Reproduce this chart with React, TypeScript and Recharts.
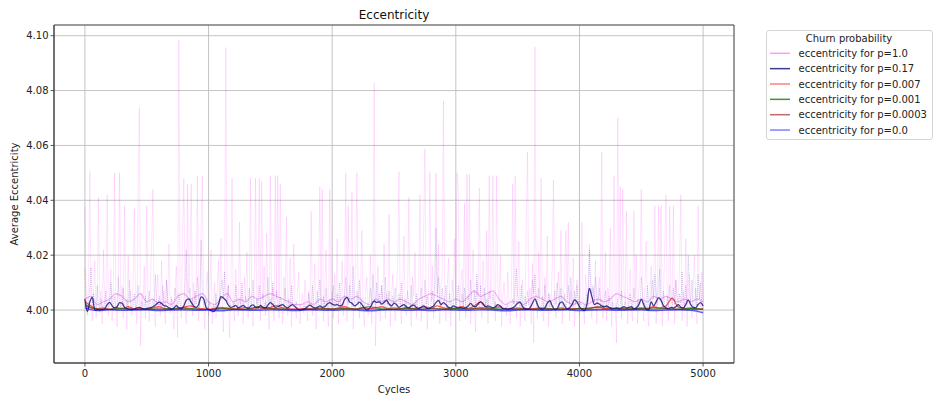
import React from 'react';
import { LineChart, Line, XAxis, YAxis, CartesianGrid, Legend, ReferenceArea } from 'recharts';

// ---- axes / ticks ----
const X_TICKS = [0, 1000, 2000, 3000, 4000, 5000];
const Y_TICKS = [4.0, 4.02, 4.04, 4.06, 4.08, 4.1];
const X_DOMAIN = [-250, 5250];
const Y_DOMAIN = [3.9807, 4.1039];

const TITLE = 'Eccentricity';
const X_LABEL = 'Cycles';
const Y_LABEL = 'Average Eccentricity';
const LEGEND_TITLE = 'Churn probability';
const SERIES_LABELS = [
  'eccentricity for p=1.0',
  'eccentricity for p=0.17',
  'eccentricity for p=0.007',
  'eccentricity for p=0.001',
  'eccentricity for p=0.0003',
  'eccentricity for p=0.0',
];

// ---- series values ----
// p=1.0 raw, one value every 10 cycles
const RAW_STEP = 10;
const P100_RAW = [
  4.038, 4.004, 3.998, 4.012, 4.0505, 4.001, 3.996, 4.006, 4.018, 3.997,
  4.003, 4.041, 3.999, 4.007, 3.995, 4.022, 4.002, 4.005, 4.042, 3.998,
  4.004, 4.015, 3.996, 4.008, 4.050, 4.002, 3.994, 4.006, 4.050, 4.001,
  4.009, 3.997, 4.038, 4.004, 3.993, 4.020, 4.003, 4.007, 3.998, 4.012,
  4.037, 4.002, 3.995, 4.043, 4.0738, 3.987, 4.006, 4.001, 4.016, 3.997,
  4.038, 4.003, 3.996, 4.008, 4.025, 4.044, 4.001, 3.994, 4.006, 4.013,
  4.004, 3.998, 4.018, 4.002, 4.007, 3.995, 4.011, 4.003, 4.024, 3.999,
  4.005, 4.002, 3.993, 4.009, 4.016, 3.990, 4.0985, 4.004, 3.997, 4.028,
  4.048, 4.003, 3.995, 4.046, 4.006, 4.020, 4.046, 3.998, 4.010, 4.002,
  4.007, 4.049, 3.996, 4.004, 4.030, 4.049, 4.001, 3.993, 4.008, 4.014,
  3.998, 4.005, 4.022, 3.995, 4.003, 4.010, 3.997, 4.006, 4.018, 4.002,
  4.026, 4.004, 3.992, 4.012, 4.0957, 4.003, 4.009, 3.990, 4.006, 4.048,
  4.001, 3.996, 4.015, 4.004, 3.998, 4.032, 4.002, 4.007, 3.995, 4.012,
  4.003, 4.021, 3.997, 4.006, 4.048, 4.001, 3.994, 4.009, 4.048, 4.002,
  4.005, 4.048, 3.996, 4.047, 4.004, 4.016, 3.998, 4.028, 4.003, 3.993,
  4.049, 4.002, 4.008, 3.996, 4.049, 4.004, 4.049, 3.997, 4.046, 4.003,
  3.995, 4.012, 4.002, 4.034, 3.998, 4.006, 4.019, 3.994, 4.004, 4.024,
  4.001, 3.997, 4.008, 4.014, 3.995, 4.003, 4.006, 3.999, 4.011, 4.002,
  3.996, 4.007, 4.002, 4.036, 3.998, 4.005, 4.017, 3.993, 4.004, 4.009,
  4.045, 4.001, 4.044, 3.996, 4.006, 4.022, 4.002, 3.994, 4.044, 4.003,
  4.007, 3.997, 4.013, 4.002, 4.026, 3.995, 4.005, 4.001, 4.018, 3.998,
  4.004, 4.050, 3.996, 4.038, 4.003, 4.010, 4.043, 3.993, 4.006, 4.015,
  4.050, 4.002, 3.997, 4.008, 4.029, 4.001, 3.994, 4.006, 4.012, 3.998,
  4.004, 4.020, 3.995, 4.007, 4.0827, 3.987, 4.005, 4.016, 4.001, 3.996,
  4.009, 4.003, 4.024, 3.997, 4.006, 4.001, 4.035, 3.994, 4.004, 4.013,
  4.002, 3.996, 4.008, 4.018, 4.0505, 4.003, 3.995, 4.006, 4.027, 4.001,
  3.998, 4.007, 4.041, 4.002, 3.994, 4.012, 4.005, 4.021, 3.997, 4.004,
  4.009, 4.042, 3.996, 4.005, 4.030, 4.0588, 4.002, 3.993, 4.008, 4.0505,
  4.003, 4.016, 3.997, 4.006, 4.050, 4.002, 4.024, 3.995, 4.009, 4.012,
  4.0763, 4.001, 3.996, 4.007, 4.019, 4.003, 3.994, 4.011, 4.004, 4.026,
  4.002, 4.050, 4.044, 3.996, 4.008, 4.015, 4.001, 4.039, 3.997, 4.0495,
  4.004, 4.0495, 3.995, 4.007, 4.022, 4.002, 3.992, 4.010, 4.005, 4.0445,
  4.003, 3.997, 4.018, 4.006, 4.001, 4.029, 3.995, 4.049, 4.004, 4.012,
  4.049, 4.006, 3.996, 4.049, 4.008, 4.003, 4.020, 3.994, 4.005, 4.010,
  4.002, 3.998, 4.014, 4.004, 3.995, 4.007, 4.046, 4.002, 4.049, 3.997,
  4.006, 4.025, 3.994, 4.003, 4.011, 4.001, 3.996, 4.033, 4.0576, 4.002,
  4.008, 3.995, 4.017, 3.988, 4.0959, 4.003, 3.997, 4.021, 4.005, 4.048,
  4.001, 3.996, 4.012, 4.004, 4.027, 3.994, 4.006, 4.002, 4.016, 4.0475,
  4.003, 3.997, 4.008, 4.014, 4.002, 4.029, 3.995, 4.006, 4.010, 4.029,
  4.004, 4.032, 3.996, 4.007, 4.001, 4.019, 3.994, 4.005, 4.011, 4.002,
  3.998, 4.009, 4.032, 4.003, 3.995, 4.013, 4.006, 4.001, 4.024, 4.004,
  3.997, 4.008, 4.002, 4.018, 3.995, 4.006, 4.012, 4.003, 4.0576, 3.997,
  4.005, 4.021, 3.996, 4.008, 4.002, 4.030, 3.994, 4.006, 4.049, 4.003,
  3.988, 4.070, 4.004, 4.045, 3.997, 4.044, 4.008, 4.002, 4.036, 3.995,
  4.006, 4.015, 4.001, 3.996, 4.036, 4.004, 4.020, 3.995, 4.007, 4.012,
  4.044, 4.003, 3.996, 4.009, 4.025, 4.002, 3.994, 4.006, 4.016, 4.001,
  4.007, 4.038, 3.995, 4.010, 4.038, 4.003, 4.038, 3.994, 4.006, 4.022,
  4.042, 4.004, 3.996, 4.038, 4.008, 4.002, 4.038, 3.995, 4.011, 4.005,
  4.003, 4.018, 4.042, 3.996, 4.007, 4.001, 4.026, 3.994, 4.005, 4.013,
  4.002, 3.997, 4.009, 4.020, 4.003, 3.995, 4.038, 4.006, 4.001, 4.014,
  4.003,
];

// p=0.17 raw, one value every 10 cycles
const P017_RAW = [
  4.015, 4.004, 3.999, 4.003, 4.008, 4.0155, 4.002, 4.006, 4.001, 4.000,
  4.009, 4.001, 4.000, 4.004, 4.000, 4.002, 4.001, 4.007, 4.000, 4.001,
  4.003, 4.010, 4.002, 4.000, 4.005, 4.001, 4.000, 4.012, 4.003, 4.000,
  4.002, 4.008, 4.001, 4.000, 4.004, 4.000, 4.011, 4.002, 4.000, 4.001,
  4.006, 4.000, 4.001, 4.009, 4.002, 4.000, 4.003, 4.001, 4.000, 4.005,
  4.000, 4.002, 4.007, 4.000, 4.001, 4.004, 4.000, 4.013, 4.002, 4.000,
  4.005, 4.003, 4.001, 4.009, 4.002, 4.000, 4.011, 4.003, 4.001, 4.000,
  4.004, 4.000, 4.002, 4.008, 4.001, 4.000, 4.006, 4.002, 4.000, 4.001,
  4.003, 4.010, 4.022, 4.005, 4.002, 4.008, 4.001, 4.004, 4.000, 4.007,
  4.002, 4.012, 4.003, 4.001, 4.0255, 4.006, 4.002, 4.000, 4.004, 4.001,
  4.000, 4.003, 4.001, 3.999, 4.002, 4.000, 4.006, 4.001, 4.000, 4.004,
  4.008, 4.011, 4.005, 4.014, 4.006, 4.003, 4.009, 4.001, 4.002, 4.000,
  4.003, 4.001, 4.009, 4.002, 4.000, 4.004, 4.001, 4.010, 4.002, 4.000,
  4.005, 4.002, 4.000, 4.008, 4.001, 4.003, 4.011, 4.002, 4.000, 4.004,
  4.001, 4.009, 4.002, 4.000, 4.006, 4.001, 4.003, 4.000, 4.012, 4.002,
  4.004, 4.001, 4.010, 4.003, 4.000, 4.007, 4.002, 4.000, 4.005, 4.001,
  4.000, 4.003, 4.008, 4.001, 4.000, 4.004, 4.001, 4.009, 4.002, 4.000,
  4.001, 4.003, 4.000, 4.001, 4.002, 4.000, 4.001, 4.000, 4.002, 4.000,
  4.001, 4.006, 4.002, 4.000, 4.009, 4.003, 4.001, 4.000, 4.007, 4.002,
  4.011, 4.003, 4.000, 4.005, 4.001, 4.008, 4.002, 4.000, 4.004, 4.001,
  4.003, 4.009, 4.001, 4.000, 4.006, 4.002, 4.010, 4.001, 4.000, 4.003,
  4.005, 4.012, 4.004, 4.002, 4.009, 4.006, 4.001, 4.016, 4.003, 4.000,
  4.007, 4.002, 4.011, 4.001, 4.004, 4.000, 4.002, 4.001, 4.000, 4.002,
  4.003, 4.008, 4.002, 4.013, 4.004, 4.001, 4.010, 4.003, 4.006, 4.002,
  4.009, 4.003, 4.001, 4.012, 4.004, 4.002, 4.007, 4.001, 4.000, 4.005,
  4.002, 4.008, 4.001, 4.000, 4.006, 4.002, 4.010, 4.001, 4.000, 4.004,
  4.001, 4.007, 4.002, 4.000, 4.009, 4.001, 4.003, 4.000, 4.006, 4.001,
  4.000, 4.004, 4.008, 4.001, 4.000, 4.011, 4.002, 4.005, 4.001, 4.000,
  4.003, 4.007, 4.002, 4.010, 4.030, 4.006, 4.012, 4.003, 4.001, 4.008,
  4.002, 4.004, 4.009, 4.001, 4.000, 4.006, 4.002, 4.000, 4.003, 4.001,
  4.000, 4.004, 4.009, 4.002, 4.000, 4.006, 4.001, 4.008, 4.002, 4.000,
  4.005, 4.002, 4.011, 4.003, 4.000, 4.007, 4.002, 4.013, 4.004, 4.001,
  4.009, 4.002, 4.000, 4.008, 4.001, 4.004, 4.000, 4.007, 4.002, 4.000,
  4.006, 4.001, 4.003, 4.000, 4.002, 4.000, 4.001, 4.000, 4.001, 4.000,
  4.001, 4.000, 4.002, 4.000, 4.001, 4.000, 4.004, 4.002, 4.008, 4.0152,
  4.006, 4.003, 4.001, 4.009, 4.002, 4.000, 4.005, 4.001, 4.007, 4.002,
  4.000, 4.004, 4.011, 4.006, 4.013, 4.003, 4.001, 4.008, 4.002, 4.000,
  4.005, 4.001, 4.009, 4.002, 4.000, 4.006, 4.001, 4.003, 4.000, 4.001,
  4.007, 4.002, 4.010, 4.004, 4.001, 4.008, 4.002, 4.000, 4.006, 4.001,
  4.003, 4.009, 4.002, 4.012, 4.004, 4.001, 4.007, 4.002, 4.009, 4.001,
  4.000, 4.003, 4.001, 4.000, 4.002, 4.001, 4.006, 4.003, 4.0221, 4.011,
  4.006, 4.009, 4.003, 4.012, 4.005, 4.002, 4.008, 4.001, 4.004, 4.000,
  4.002, 4.007, 4.001, 4.000, 4.005, 4.002, 4.000, 4.003, 4.001, 4.000,
  4.001, 4.004, 4.000, 4.002, 4.007, 4.001, 4.000, 4.003, 4.001, 4.000,
  4.002, 4.006, 4.001, 4.000, 4.008, 4.002, 4.000, 4.004, 4.001, 4.000,
  4.012, 4.005, 4.001, 4.003, 4.000, 4.009, 4.002, 4.000, 4.006, 4.011,
  4.004, 4.013, 4.006, 4.002, 4.010, 4.015, 4.004, 4.001, 4.007, 4.002,
  4.000, 4.005, 4.001, 4.009, 4.002, 4.000, 4.008, 4.002, 4.011, 4.004,
  4.001, 4.006, 4.002, 4.014, 4.003, 4.000, 4.009, 4.002, 4.020, 4.006,
  4.003, 4.011, 4.002, 4.000, 4.008, 4.001, 4.013, 4.004, 4.010, 4.002,
  3.999,
];

// p=0.17 smoothed, one value every 20 cycles
const SMOOTH_STEP = 20;
const P017_SMOOTH = [
  4.004, 3.9995, 4.003, 4.0046, 4.000, 4.0002, 4.000, 4.0002, 4.0005, 4.002,
  4.0028, 4.0015, 4.0008, 4.0012, 4.0027, 4.0025, 4.001, 4.0005, 4.0003, 4.0002,
  4.0004, 4.0008, 4.001, 4.0006, 4.0004, 4.0005, 4.0008, 4.001, 4.0015, 4.0022,
  4.0029, 4.0024, 4.0016, 4.0014, 4.0008, 4.0003, 4.0008, 4.0016, 4.0008, 4.0005,
  4.0015, 4.0036, 4.0041, 4.0028, 4.0015, 4.001, 4.002, 4.0048, 4.0042, 4.001,
  4.0002, 3.9998, 3.9994, 4.0003, 4.002, 4.0049, 4.0044, 4.0035, 4.0018, 4.001,
  4.0012, 4.0017, 4.0008, 4.0012, 4.0017, 4.001, 4.0006, 4.0014, 4.0019, 4.001,
  4.0008, 4.0017, 4.001, 4.0008, 4.0018, 4.0027, 4.002, 4.001, 4.0012, 4.0017,
  4.002, 4.0012, 4.0008, 4.0015, 4.002, 4.0012, 4.0004, 4.000, 4.0002, 4.0005,
  4.0012, 4.0018, 4.0012, 4.0008, 4.001, 4.0015, 4.001, 4.0012, 4.0022, 4.0027,
  4.0022, 4.0018, 4.002, 4.0015, 4.0018, 4.0038, 4.0046, 4.003, 4.0025, 4.0015,
  4.002, 4.0029, 4.002, 4.0008, 4.000, 4.0005, 4.002, 4.0033, 4.0028, 4.003,
  4.0022, 4.0028, 4.0035, 4.0022, 4.0015, 4.0025, 4.002, 4.001, 4.0015, 4.002,
  4.0012, 4.0008, 4.0015, 4.0018, 4.001, 4.0005, 4.001, 4.0015, 4.0008, 4.0005,
  4.001, 4.0015, 4.0028, 4.0035, 4.002, 4.0027, 4.002, 4.001, 4.0008, 4.0015,
  4.0012, 4.0008, 4.001, 4.0006, 4.0008, 4.0015, 4.0024, 4.0015, 4.0012, 4.0022,
  4.003, 4.0022, 4.0012, 4.0015, 4.0012, 4.0008, 4.0012, 4.002, 4.0015, 4.0005,
  4.0005, 4.0003, 4.0005, 4.0008, 4.0015, 4.0025, 4.0029, 4.0012, 4.0005, 4.0003,
  4.0008, 4.0025, 4.0041, 4.002, 4.0005, 4.0003, 4.0008, 4.0025, 4.0034, 4.0015,
  4.0002, 4.0005, 4.0025, 4.003, 4.0015, 4.0005, 4.0008, 4.002, 4.0037, 4.003,
  4.0012, 4.0003, 3.9998, 4.002, 4.0079, 4.005, 4.002, 4.0025, 4.0022, 4.0015,
  4.0012, 4.0015, 4.001, 4.0005, 4.0005, 4.0008, 4.0004, 4.0008, 4.0012, 4.0008,
  4.001, 4.0012, 4.0005, 4.0008, 4.002, 4.0039, 4.002, 4.0003, 4.000, 4.003,
  4.0015, 4.003, 4.0045, 4.0035, 4.0015, 4.0008, 4.0005, 4.001, 4.0008, 4.0012,
  4.002, 4.001, 4.0008, 4.002, 4.0037, 4.002, 4.001, 4.0008, 4.002, 4.0027,
  4.0015,
];

// p=1.0 smoothed and the low-churn series, one value every 50 cycles
const COARSE_STEP = 50;
const P100_SMOOTH = [
  4.004, 4.005, 4.002, 4.003, 4.004, 4.006, 4.005, 4.003, 4.004, 4.006,
  4.003, 4.004, 4.002, 4.003, 4.002, 4.005, 4.006, 4.004, 4.005, 4.006,
  4.003, 4.002, 4.004, 4.006, 4.003, 4.004, 4.003, 4.005, 4.004, 4.005,
  4.006, 4.005, 4.004, 4.003, 4.002, 4.002, 4.003, 4.002, 4.004, 4.003,
  4.004, 4.003, 4.005, 4.004, 4.005, 4.003, 4.002, 4.004, 4.003, 4.004,
  4.003, 4.004, 4.003, 4.002, 4.004, 4.005, 4.006, 4.005, 4.004, 4.003,
  4.004, 4.003, 4.005, 4.007, 4.005, 4.006, 4.007, 4.004, 4.002, 4.003,
  4.003, 4.002, 4.004, 4.005, 4.004, 4.003, 4.004, 4.005, 4.003, 4.002,
  4.003, 4.002, 4.003, 4.004, 4.003, 4.004, 4.006, 4.005, 4.004, 4.003,
  4.004, 4.003, 4.005, 4.004, 4.005, 4.004, 4.003, 4.004, 4.003, 4.004,
  4.003,
];

const P0007 = [
  4.003, 4.0015, 4.0005, 4.0008, 4.0003, 4.001, 4.0005, 4.0012, 4.0004, 4.0006,
  4.0003, 4.0008, 4.0012, 4.0005, 4.0003, 4.0006, 4.001, 4.0015, 4.0008, 4.0005,
  4.0003, 4.0006, 4.001, 4.0008, 4.0004, 4.0006, 4.0009, 4.0005, 4.0012, 4.0006,
  4.001, 4.0016, 4.0008, 4.0005, 4.0003, 4.0004, 4.0006, 4.0003, 4.0008, 4.0005,
  4.0004, 4.0008, 4.0012, 4.0006, 4.0004, 4.001, 4.0005, 4.0008, 4.0012, 4.0006,
  4.0008, 4.0005, 4.001, 4.0006, 4.0008, 4.0012, 4.0006, 4.0015, 4.0008, 4.0005,
  4.0008, 4.0012, 4.0006, 4.0015, 4.003, 4.001, 4.0008, 4.0012, 4.0005, 4.0004,
  4.0008, 4.0005, 4.0004, 4.0006, 4.0008, 4.0005, 4.0004, 4.0008, 4.0005, 4.0004,
  4.0006, 4.0004, 4.0008, 4.0012, 4.0006, 4.0004, 4.0008, 4.0005, 4.0006, 4.0004,
  4.0008, 4.0005, 4.0012, 4.0008, 4.0015, 4.0043, 4.001, 4.0006, 4.0008, 4.0005,
  4.0004,
];

const FLAT_STEP = 100;
const P0001 = [
  4.002, 4.0004, 4.0003, 4.0006, 4.0002, 4.0004, 4.0003, 4.0005, 4.0008, 4.0004,
  4.0002, 4.0006, 4.0004, 4.0003, 4.0012, 4.0006, 4.0004, 4.0002, 4.0003, 4.0005,
  4.0004, 4.0006, 4.0004, 4.0012, 4.0005, 4.0004, 4.0006, 4.0003, 4.0005, 4.0004,
  4.0006, 4.0004, 4.0008, 4.0005, 4.0003, 4.0004, 4.0003, 4.0005, 4.0004, 4.0003,
  4.0005, 4.0008, 4.0012, 4.0005, 4.0004, 4.0006, 4.0008, 4.0005, 4.0004, 4.0006,
  4.0003,
];

const P00003 = [
  4.0015, 4.0003, 4.0002, 4.0004, 4.0003, 4.0002, 4.0004, 4.0003, 4.0005, 4.0003,
  4.0002, 4.0004, 4.0003, 4.0002, 4.0004, 4.0006, 4.0003, 4.0002, 4.0003, 4.0004,
  4.0003, 4.0005, 4.0003, 4.0004, 4.0002, 4.0003, 4.0004, 4.0003, 4.0005, 4.0004,
  4.0003, 4.0004, 4.0006, 4.0003, 4.0002, 4.0003, 4.0004, 4.0003, 4.0002, 4.0003,
  4.0004, 4.0003, 4.0005, 4.0003, 4.0002, 4.0004, 4.0003, 4.0005, 4.0003, 4.0002,
  4.0003,
];

const P00 = [
  4.0008, 3.9998, 4.0001, 3.9999, 4.0000, 4.0001, 3.9998, 4.0000, 4.0001, 3.9999,
  4.0000, 3.9997, 4.0001, 4.0000, 3.9999, 4.0001, 4.0000, 3.9998, 4.0001, 4.0000,
  3.9999, 4.0001, 4.0000, 3.9997, 4.0000, 4.0001, 3.9999, 4.0000, 3.9998, 4.0001,
  4.0000, 3.9999, 4.0001, 4.0000, 3.9997, 4.0000, 4.0001, 3.9999, 4.0000, 4.0001,
  3.9998, 4.0000, 4.0001, 3.9999, 4.0000, 4.0001, 3.9998, 4.0000, 4.0001, 3.9999,
  3.9990,
];

const LEGEND_COLORS = ['#ff99ff', '#3d3d8f', '#ff8080', '#339933', '#c06a6a', '#8080ff'];

const toPoints = (values: number[], step: number) =>
  values.map((v, i) => ({ cycle: i * step, v }));

const dP100Raw = toPoints(P100_RAW, RAW_STEP);
const dP017Raw = toPoints(P017_RAW, RAW_STEP);
const dP017Smooth = toPoints(P017_SMOOTH, SMOOTH_STEP);
const dP100Smooth = toPoints(P100_SMOOTH, COARSE_STEP);
const dP0007 = toPoints(P0007, COARSE_STEP);
const dP0001 = toPoints(P0001, FLAT_STEP);
const dP00003 = toPoints(P00003, FLAT_STEP);
const dP00 = toPoints(P00, FLAT_STEP);

const FONT = "'DejaVu Sans', sans-serif";

const LegendBox = () => (
  <svg width={167} height={111} style={{ display: 'block', fontFamily: FONT }}>
    <rect x={0.5} y={0.5} width={166} height={109} rx={2.5} fill="#fff" fillOpacity={0.8} stroke="#d5d5d5" />
    <text x={83} y={11.5} textAnchor="middle" fontSize={10} fill="#222">
      {LEGEND_TITLE}
    </text>
    {SERIES_LABELS.map((label, i) => {
      const cy = 23.3 + i * 15.35;
      return (
        <g key={label}>
          <line x1={4} x2={24} y1={cy} y2={cy} stroke={LEGEND_COLORS[i]} strokeWidth={1.5} />
          <text x={32.5} y={cy + 3.6} fontSize={10} fill="#222">
            {label}
          </text>
        </g>
      );
    })}
  </svg>
);

export default function App() {
  return (
    <div style={{ position: 'absolute', left: 0, top: 0, width: 933, height: 401, background: '#fff', fontFamily: FONT }}>
      <LineChart width={933} height={401} margin={{ top: 25, right: 199, bottom: 0, left: 0 }}>
        <CartesianGrid stroke="#bdbdbd" strokeWidth={0.9} />
        <XAxis
          dataKey="cycle"
          type="number"
          domain={X_DOMAIN}
          ticks={X_TICKS}
          allowDataOverflow
          height={38}
          tickSize={3.5}
          tickMargin={3}
          tick={{ fontSize: 10, fill: '#222', fontFamily: FONT }}
          stroke="#333"
          strokeWidth={0.8}
        />
        <YAxis
          type="number"
          domain={Y_DOMAIN}
          ticks={Y_TICKS}
          allowDataOverflow
          width={54}
          tickSize={3.5}
          tickMargin={2}
          tickFormatter={(v: number) => v.toFixed(2)}
          tick={{ fontSize: 10, fill: '#222', fontFamily: FONT }}
          stroke="#333"
          strokeWidth={0.8}
        />
        <ReferenceArea
          x1={X_DOMAIN[0]}
          x2={X_DOMAIN[1]}
          y1={Y_DOMAIN[0]}
          y2={Y_DOMAIN[1]}
          fill="none"
          stroke="#333"
          strokeWidth={0.8}
          ifOverflow="visible"
        />
        <Line data={dP100Raw} dataKey="v" type="linear" dot={false} stroke="#ff00ff" strokeOpacity={0.13} strokeWidth={0.9} isAnimationActive={false} legendType="none" />
        <Line data={dP100Smooth} dataKey="v" type="monotone" dot={false} stroke="#e040e0" strokeOpacity={0.4} strokeWidth={1.1} isAnimationActive={false} legendType="none" />
        <Line data={dP017Raw} dataKey="v" type="linear" dot={false} stroke="#000080" strokeOpacity={0.22} strokeWidth={0.9} strokeDasharray="1 1" isAnimationActive={false} legendType="none" />
        <Line data={dP0007} dataKey="v" type="monotone" dot={false} stroke="#ff0000" strokeOpacity={0.65} strokeWidth={1.3} isAnimationActive={false} legendType="none" />
        <Line data={dP0001} dataKey="v" type="monotone" dot={false} stroke="#008000" strokeOpacity={0.8} strokeWidth={1.1} isAnimationActive={false} legendType="none" />
        <Line data={dP00003} dataKey="v" type="monotone" dot={false} stroke="#a52a2a" strokeOpacity={0.7} strokeWidth={1.1} isAnimationActive={false} legendType="none" />
        <Line data={dP017Smooth} dataKey="v" type="monotone" dot={false} stroke="#1a1a80" strokeOpacity={0.85} strokeWidth={1.3} isAnimationActive={false} legendType="none" />
        <Line data={dP00} dataKey="v" type="monotone" dot={false} stroke="#0000ff" strokeOpacity={0.6} strokeWidth={1.5} isAnimationActive={false} legendType="none" />
        <Legend
          layout="vertical"
          align="center"
          verticalAlign="middle"
          content={() => <LegendBox />}
          wrapperStyle={{ left: 766, top: 30, right: 'auto', bottom: 'auto', width: 167, height: 111 }}
        />
        <text x={394} y={19} textAnchor="middle" fontSize={12} fill="#111" fontFamily={FONT}>
          {TITLE}
        </text>
        <text x={394} y={393} textAnchor="middle" fontSize={10} fill="#222" fontFamily={FONT}>
          {X_LABEL}
        </text>
        <text x={17.5} y={194} textAnchor="middle" fontSize={10} fill="#222" fontFamily={FONT} transform="rotate(-90, 17.5, 194)">
          {Y_LABEL}
        </text>
      </LineChart>
    </div>
  );
}
